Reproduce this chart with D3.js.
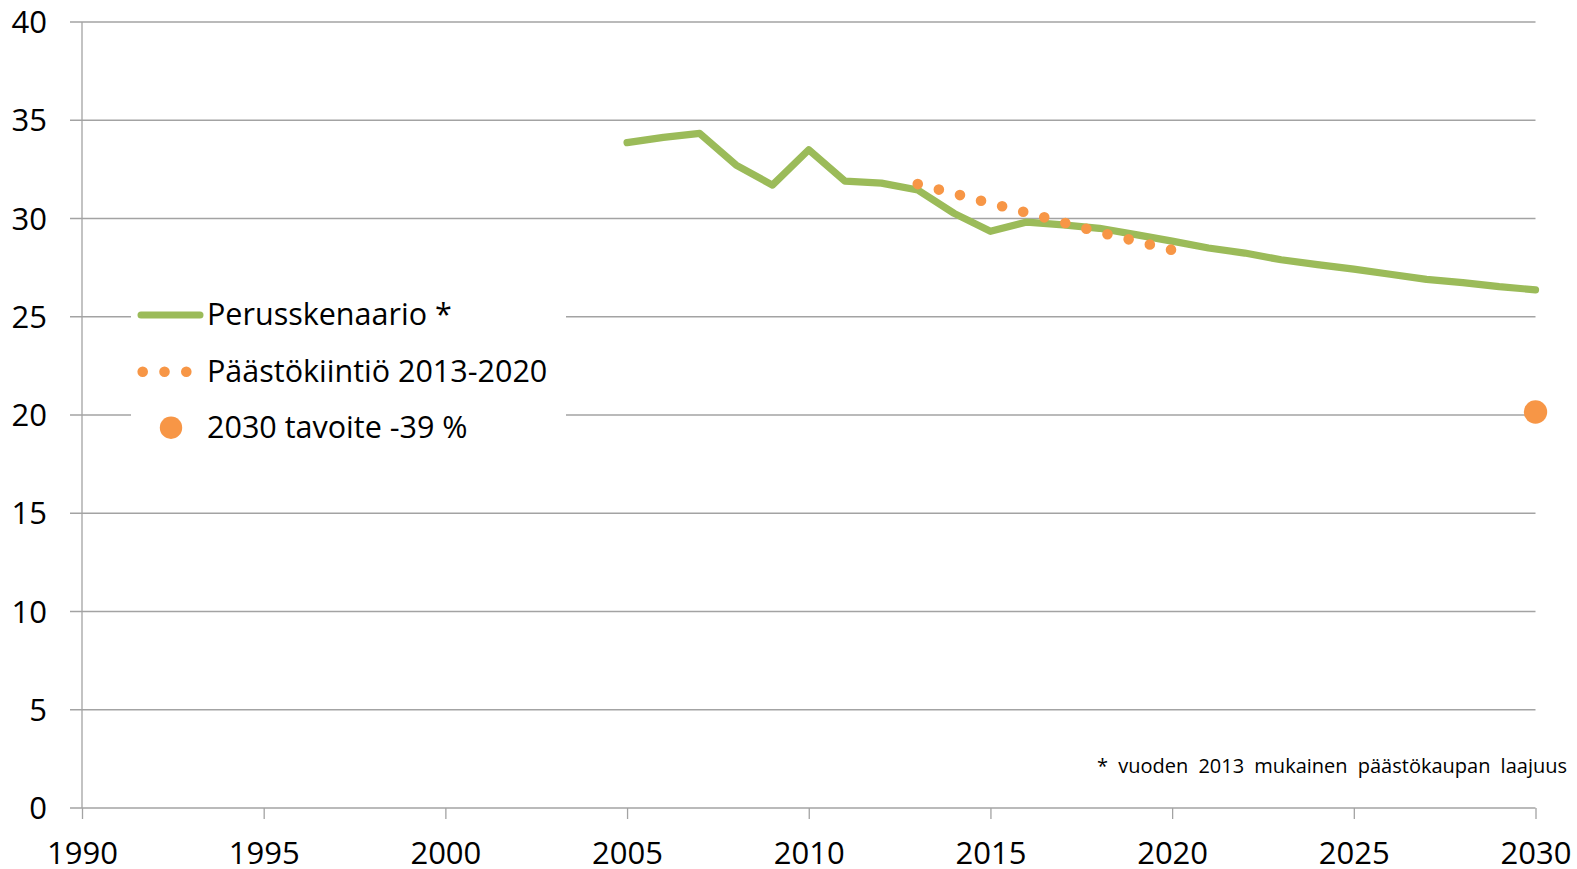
<!DOCTYPE html>
<html>
<head>
<meta charset="utf-8">
<script src="https://cdn.jsdelivr.net/npm/d3@7"></script>
<style>
  html, body { margin: 0; padding: 0; background: #fff; }
  svg { display: block; font-family: "Open Sans", sans-serif; }
</style>
</head>
<body>
<svg id="chart" width="1577" height="869"></svg>
<script>
// ---- data ----
const baseYears = [2005, 2006, 2007, 2008, 2009, 2010, 2011, 2012, 2013, 2014, 2015, 2016, 2017,
                   2018, 2019, 2020, 2021, 2022, 2023, 2024, 2025, 2026, 2027, 2028, 2029, 2030];
const baseValues = [33.86, 34.13, 34.33, 32.72, 31.7, 33.5, 31.9, 31.8, 31.45, 30.26, 29.35, 29.82, 29.68,
                    29.5, 29.18, 28.85, 28.5, 28.24, 27.9, 27.65, 27.42, 27.16, 26.9, 26.74, 26.53, 26.37];
const quotaYears = [2013, 2014, 2015, 2016, 2017, 2018, 2019, 2020];
const quotaValues = [31.75, 31.27, 30.78, 30.3, 29.8, 29.3, 28.85, 28.4];
const targetYears = [2030];
const targetValues = [20.15];
const xTicks = [1990, 1995, 2000, 2005, 2010, 2015, 2020, 2025, 2030];
const yTicks = [0, 5, 10, 15, 20, 25, 30, 35, 40];
const legendLabels = ["Perusskenaario *", "Päästökiintiö 2013-2020", "2030 tavoite -39 %"];
const footnote = "* vuoden 2013 mukainen päästökaupan laajuus";

// ---- layout ----
const svg = d3.select("#chart");
const x = d3.scaleLinear().domain([1990, 2030]).range([82, 1535.5]);
const y = d3.scaleLinear().domain([0, 40]).range([808, 22]);
const green = "#9BBB59", orange = "#F79646", grid = "#A3A3A3";

// gridlines with left tick extension
const gY = svg.append("g");
gY.selectAll("line.grid").data(yTicks).join("line")
  .attr("x1", 70).attr("x2", x(2030))
  .attr("y1", d => y(d)).attr("y2", d => y(d))
  .attr("stroke", grid).attr("stroke-width", 1.3);
gY.selectAll("text").data(yTicks).join("text")
  .attr("x", 47).attr("y", d => y(d)).attr("dy", "0.36em")
  .attr("text-anchor", "end").attr("font-size", 31).attr("fill", "#000")
  .text(d => d);

// vertical axis line
svg.append("line").attr("x1", x(1990)).attr("x2", x(1990)).attr("y1", y(40)).attr("y2", y(0))
  .attr("stroke", grid).attr("stroke-width", 1.3);

// x axis ticks + labels
const gX = svg.append("g").attr("transform", `translate(0,${y(0)})`);
gX.call(d3.axisBottom(x).tickValues(xTicks).tickSize(11).tickPadding(0).tickFormat(d3.format("d")));
gX.select(".domain").remove();
gX.selectAll(".tick line").attr("stroke", grid).attr("stroke-width", 1.3);
gX.selectAll(".tick text").attr("font-size", 31).attr("fill", "#000")
  .attr("font-family", "'Open Sans', sans-serif").attr("y", 56).attr("dy", 0);

// legend background (covers gridlines)
svg.append("rect").attr("x", 131).attr("y", 288).attr("width", 435).attr("height", 157).attr("fill", "#fff");

// base line
const line = d3.line().x(d => x(d[0])).y(d => y(d[1]));
svg.append("path")
  .datum(baseYears.map((yr, i) => [yr, baseValues[i]]))
  .attr("d", line).attr("fill", "none").attr("stroke", green)
  .attr("stroke-width", 7.2).attr("stroke-linejoin", "round").attr("stroke-linecap", "round");

// quota dotted line
svg.append("path")
  .datum(quotaYears.map((yr, i) => [yr, quotaValues[i]]))
  .attr("d", line).attr("fill", "none").attr("stroke", orange)
  .attr("stroke-width", 10.6).attr("stroke-linecap", "round")
  .attr("stroke-dasharray", "0 21.8");

// target point
svg.selectAll("circle.target").data(targetYears.map((yr, i) => [yr, targetValues[i]])).join("circle")
  .attr("class", "target").attr("cx", d => x(d[0])).attr("cy", d => y(d[1])).attr("r", 11.7)
  .attr("fill", orange);

// legend
const lg = svg.append("g");
lg.append("line").attr("x1", 141).attr("x2", 200).attr("y1", 315).attr("y2", 315)
  .attr("stroke", green).attr("stroke-width", 7).attr("stroke-linecap", "round");
lg.append("line").attr("x1", 142.7).attr("x2", 186.5).attr("y1", 371.7).attr("y2", 371.7)
  .attr("stroke", orange).attr("stroke-width", 10.6).attr("stroke-linecap", "round")
  .attr("stroke-dasharray", "0 21.8");
lg.append("circle").attr("cx", 171).attr("cy", 427.7).attr("r", 11.2).attr("fill", orange);
const lgY = [325, 381.7, 437.7];
lg.selectAll("text").data(legendLabels).join("text")
  .attr("x", 207).attr("y", (d, i) => lgY[i]).attr("font-size", 30.5).attr("fill", "#000")
  .text(d => d);

// footnote
svg.append("text").attr("x", 1567).attr("y", 773).attr("text-anchor", "end")
  .attr("font-size", 20).attr("fill", "#000").attr("word-spacing", 5).text(footnote);
</script>
</body>
</html>
